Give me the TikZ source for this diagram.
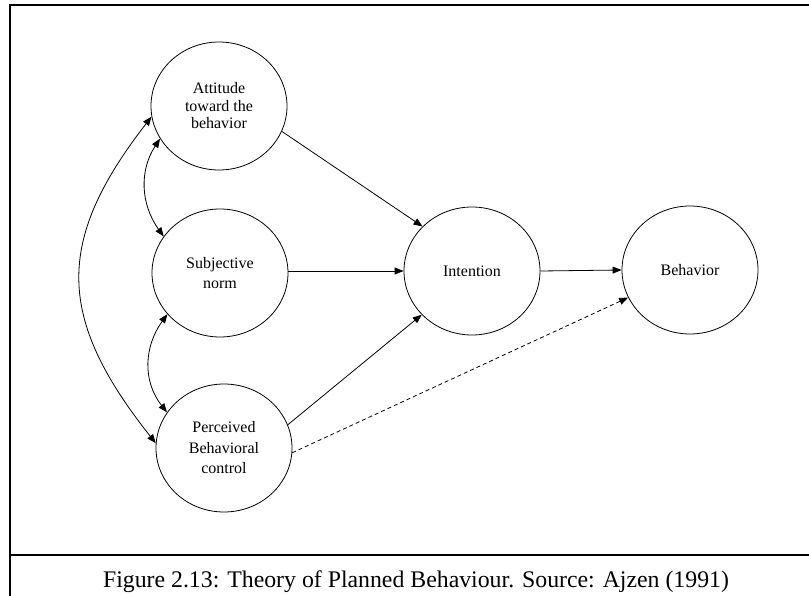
\documentclass[tikz,border=0pt]{standalone}
\usepackage{fontspec}
\setmainfont{Liberation Serif}
\usetikzlibrary{arrows.meta,shapes.geometric}
\begin{document}
\begin{tikzpicture}[x=1pt,y=-1pt,
  construct/.style={ellipse,draw,line width=0.8pt,minimum width=136pt,minimum height=128pt,
    inner sep=0pt,align=center,font=\fontsize{16}{20.5}\selectfont},
  tip/.tip={Triangle[length=9pt,width=7pt]},
  link/.style={line width=0.8pt,-tip},
  twoway/.style={line width=0.8pt,tip-tip},
  frameline/.style={line width=2pt}]
\useasboundingbox (0,0) rectangle (809,596);

% outer frame and caption divider
\draw[frameline] (10,597) -- (10,5) -- (810,5);
\draw[frameline] (10,555) -- (810,555);

% constructs
\node[construct,font=\fontsize{16}{17.5}\selectfont] (att) at (219,106) {Attitude\\toward the\\behavior};
\node[construct] (sub) at (220,273) {Subjective\\norm};
\node[construct] (per) at (224,448) {Perceived\\Behavioral\\control};
\node[construct] (int) at (472,271) {Intention};
\node[construct] (beh) at (690,270) {Behavior};

% paths into intention and behavior
\draw[link] (att.-22) -- (int.138);
\draw[link] (sub.east |- int.west) -- (int.west);
\draw[link] (per.20) -- (int.221);
\draw[link] (int.east) -- (beh.west);
\draw[link,dash pattern=on 4pt off 3pt] (per.-4) -- (beh.204);

% correlations among the antecedents
\draw[twoway] (att.209) .. controls +(-21,32) and +(-23,-32) .. (sub.147);
\draw[twoway] (sub.218) .. controls +(-23,32) and +(-25,-32) .. (per.148);
\draw[twoway] (att.189) .. controls +(-97,125) and +(-99,-125) .. (per.176);

% caption
\node[font=\fontsize{23.8}{28}\selectfont,anchor=base,inner sep=0pt] (cap) at (416,587) {Figure 2.13: Theory of Planned Behaviour. Source: Ajzen (1991)};
\end{tikzpicture}
\end{document}
